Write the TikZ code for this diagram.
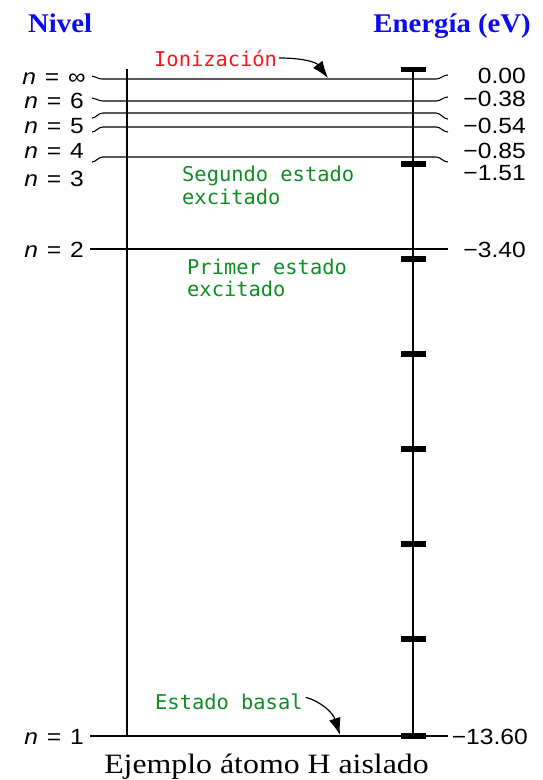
\documentclass[tikz,border=0pt]{standalone}
\usepackage{fontspec}
\setmainfont{Liberation Serif}
\setsansfont{Liberation Sans}
\setmonofont{DejaVu Sans Mono}
\usetikzlibrary{arrows.meta}
\newcommand{\hx}[1]{\scalebox{1.12}[1]{#1}}
\newcommand{\nlab}[1]{\scalebox{1.12}[1]{\textit{n}\hspace{0.36em}=\hspace{0.36em}#1}}
\definecolor{notered}{RGB}{250,20,30}
\definecolor{notegreen}{RGB}{15,140,35}
\definecolor{titleblue}{RGB}{10,10,245}
\tikzset{
  lvl/.style={line width=1.1pt},
  basel/.style={line width=2pt},
  axisline/.style={line width=2.5pt},
  tickmark/.style={line width=5.5pt},
  lab/.style={font=\sffamily\fontsize{22}{22}\selectfont, inner sep=0pt, anchor=base east},
  note/.style={font=\ttfamily\fontsize{20.4}{23}\selectfont, inner sep=0pt, anchor=base west},
  ttl/.style={font=\bfseries\fontsize{27}{27}\selectfont, text=titleblue, inner sep=0pt},
  callout/.style={line width=1.2pt, -{Latex[length=17pt,width=12pt]}}
}
\begin{document}
\begin{tikzpicture}[x=1pt,y=-1pt]
\useasboundingbox (0,0) rectangle (542,780);

% titles
\node[ttl, anchor=base west] (tnivel) at (28,32) {\scalebox{1.065}[1]{Nivel}};
\node[ttl, anchor=base east] (tener) at (531,32) {\scalebox{1.065}[1]{Energía (eV)}};

% vertical axes
\draw[axisline] (127,69) -- (127,737);
\draw[axisline] (413,67) -- (413,737);
\foreach \yy in {69.5,164,259,354,449,544,639,736}
  \draw[tickmark] (401,\yy) -- (426,\yy);

% levels with leaders
\draw[lvl] (92,76) .. controls (96,76) and (97,79) .. (102,79) -- (436,79) .. controls (441,79) and (443,75) .. (448,75);
\draw[lvl] (92,98) .. controls (96,98) and (98,101) .. (103,101) -- (436,101) .. controls (441,101) and (443,97) .. (448,97);
\draw[lvl] (92,118) .. controls (96,118) and (98,113) .. (103,113) -- (436,113) .. controls (441,113) and (443,119) .. (448,119);
\draw[lvl] (92,132) .. controls (96,132) and (98,127) .. (103,127) -- (436,127) .. controls (441,127) and (443,132) .. (448,132);
\draw[lvl] (92,162) .. controls (96,162) and (98,157) .. (103,157) -- (436,157) .. controls (441,157) and (443,162) .. (448,162);
\draw[lvl] (90,249) -- (448,249);
\draw[basel] (90,736) -- (448,736);

% level labels
\node[lab] (ninf) at (86,84) {\nlab{∞}};
\node[lab] (n6) at (84,108) {\nlab{6}};
\node[lab] (n5) at (84,133) {\nlab{5}};
\node[lab] (n4) at (84,158) {\nlab{4}};
\node[lab] (n3) at (84,186) {\nlab{3}};
\node[lab] (n2) at (84,257) {\nlab{2}};
\node[lab] (n1) at (84,744) {\nlab{1}};

% energy labels
\node[lab] (e0) at (526,83) {\hx{0.00}};
\node[lab] (e6) at (526,106) {\hx{−0.38}};
\node[lab] (e5) at (526,133) {\hx{−0.54}};
\node[lab] (e4) at (526,158) {\hx{−0.85}};
\node[lab] (e3) at (526,180) {\hx{−1.51}};
\node[lab] (e2) at (526,257) {\hx{−3.40}};
\node[lab] (e1) at (528,744) {\hx{−13.60}};

% notes
\node[note, text=notered] (ion) at (154,66) {Ionización};
\node[note, text=notegreen] (seg1) at (182,181) {Segundo estado};
\node[note, text=notegreen] (seg2) at (182,204) {excitado};
\node[note, text=notegreen] (pri1) at (187,274) {Primer estado};
\node[note, text=notegreen] (pri2) at (187,296) {excitado};
\node[note, text=notegreen] (bas) at (155,709) {Estado basal};

\coordinate (iontip) at (328,78);
\coordinate (bastip) at (340,735);
\draw[callout] (ion.east) ++(2,0) .. controls (302,58) and (316,62) .. (iontip);
\draw[callout] (bas.east) ++(3,-4) .. controls (322,702) and (333,713) .. (bastip);

% caption
\node[inner sep=0pt, anchor=base, font=\fontsize{28}{28}\selectfont] (cap) at (266.5,773) {\scalebox{1.137}[1]{Ejemplo átomo H aislado}};
\end{tikzpicture}
\end{document}
